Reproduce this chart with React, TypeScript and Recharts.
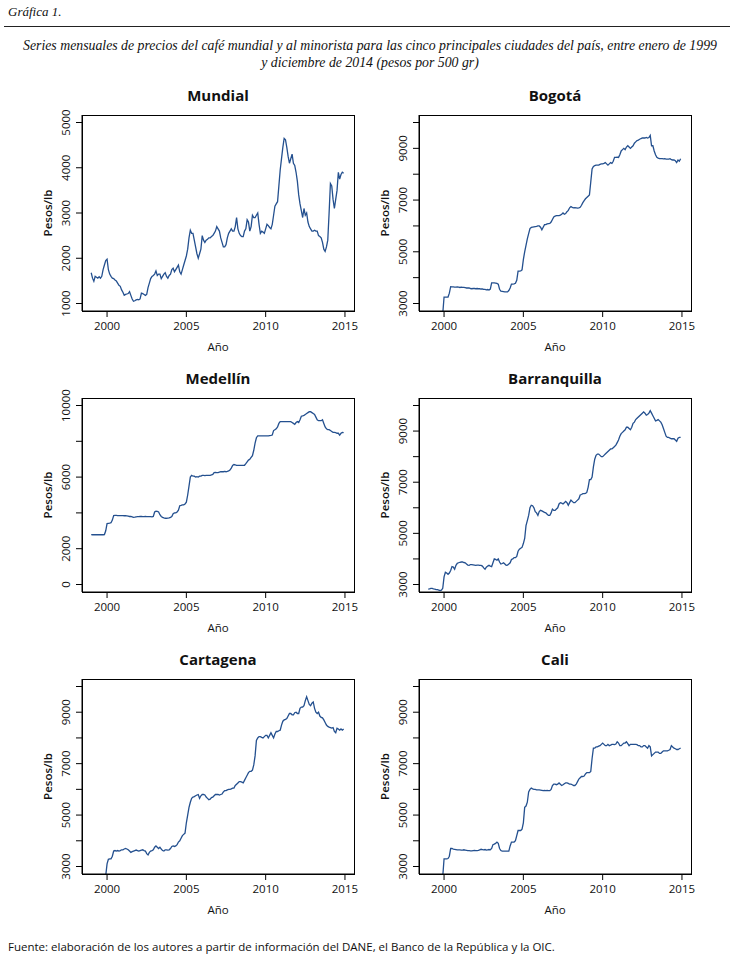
import React from 'react';
import { LineChart, Line, XAxis, YAxis, Label } from 'recharts';

const SANS = '"Open Sans", "Noto Sans", sans-serif';
const SERIF = '"Liberation Serif", "DejaVu Serif", serif';
const LINE_COLOR = '#24508f';

// monthly series, Jan 1999 .. Dec 2014 (one row of 12 per year)
const months = Array.from({ length: 192 }, (_, i) => 1999 + i / 12);
const yearTicks = [2000, 2005, 2010, 2015];
const xDomain = [1998.42, 2015.57];

const mundial = [
  1680, 1560, 1490, 1600, 1580, 1560, 1590, 1560, 1600, 1750, 1850, 1950,
  1980, 1750, 1650, 1600, 1560, 1550, 1520, 1500, 1450, 1400, 1380, 1300,
  1250, 1180, 1200, 1210, 1220, 1260, 1180, 1100, 1050, 1060, 1080, 1090,
  1080, 1100, 1230, 1220, 1200, 1180, 1200, 1350, 1450, 1550, 1600, 1620,
  1650, 1720, 1620, 1650, 1650, 1550, 1600, 1650, 1680, 1600, 1560, 1620,
  1650, 1750, 1780, 1700, 1750, 1800, 1850, 1700, 1650, 1750, 1850, 1950,
  2050, 2200, 2450, 2620, 2550, 2550, 2400, 2250, 2100, 2000, 2100, 2200,
  2500, 2400, 2350, 2400, 2420, 2450, 2450, 2480, 2500, 2550, 2600, 2700,
  2650, 2600, 2450, 2350, 2250, 2250, 2300, 2450, 2550, 2600, 2650, 2600,
  2600, 2700, 2900, 2650, 2550, 2500, 2480, 2480, 2600, 2650, 2850, 2800,
  2600, 2700, 2950, 2900, 2900, 2950, 3000, 2750, 2550, 2600, 2580, 2550,
  2650, 2750, 2720, 2680, 2650, 2750, 2950, 3150, 3200, 3250, 3600, 3950,
  4200, 4450, 4650, 4620, 4450, 4250, 4100, 4200, 4300, 4100, 4050, 3900,
  3700, 3400, 3200, 3050, 2900, 3100, 2950, 3000, 2800, 2700, 2650, 2600,
  2600, 2620, 2600, 2600, 2500, 2480, 2450, 2350, 2200, 2150, 2250, 2400,
  3000, 3650, 3600, 3300, 3100, 3300, 3500, 3900, 3750, 3850, 3900, 3880,
];

const bogota = [
  2550, 2550, 2550, 2550, 2550, 2550, 2550, 2550, 2550, 2550, 2550, 2600,
  3250, 3250, 3250, 3250, 3400, 3650, 3640, 3640, 3630, 3630, 3640, 3630,
  3620, 3630, 3620, 3620, 3610, 3600, 3600, 3600, 3580, 3570, 3580, 3580,
  3570, 3580, 3570, 3570, 3560, 3560, 3550, 3550, 3530, 3540, 3520, 3560,
  3800, 3800, 3800, 3790, 3780, 3750, 3550, 3480, 3470, 3460, 3450, 3450,
  3450, 3500, 3600, 3750, 3750, 3760, 3780, 3900, 4250, 4250, 4260, 4300,
  4700, 5000, 5250, 5500, 5700, 5900, 5940, 5950, 5960, 5970, 5980, 6000,
  6000, 5950, 5850, 5950, 6050, 6050, 6080, 6090, 6100, 6150, 6250, 6350,
  6380, 6400, 6400, 6400, 6420, 6450, 6500, 6450, 6480, 6550, 6600, 6700,
  6750, 6720, 6700, 6710, 6700, 6690, 6700, 6720, 6800, 6900, 6980, 7050,
  7100, 7150, 7200, 7700, 8200, 8300, 8330, 8350, 8350, 8350, 8380, 8400,
  8400, 8420, 8450, 8400, 8350, 8400, 8450, 8420, 8500, 8650, 8650, 8660,
  8650, 8750, 8900, 8950, 9000, 8950, 9050, 9100, 9050, 9000, 9050, 9100,
  9200, 9250, 9300, 9320, 9350, 9380, 9400, 9400, 9400, 9420, 9400, 9420,
  9500, 9100, 9100, 8900, 8750, 8650, 8620, 8600, 8600, 8600, 8590, 8600,
  8580, 8580, 8580, 8600, 8560, 8550, 8550, 8520, 8450, 8550, 8500, 8600,
];

const medellin = [
  2790, 2780, 2780, 2780, 2780, 2780, 2780, 2780, 2780, 2780, 2790, 3000,
  3400, 3420, 3430, 3450, 3600, 3850, 3860, 3860, 3850, 3850, 3850, 3850,
  3850, 3840, 3840, 3830, 3820, 3800, 3800, 3780, 3750, 3760, 3780, 3790,
  3790, 3800, 3800, 3790, 3790, 3800, 3790, 3790, 3790, 3790, 3780, 3800,
  4050, 4100, 4080, 4050, 3900, 3800, 3750, 3720, 3700, 3700, 3710, 3720,
  3750, 3800, 3950, 4000, 4000, 4050, 4150, 4400, 4420, 4450, 4450, 4500,
  4600, 5000, 5500, 6000, 6100, 6050, 6050, 6000, 6020, 6000, 6050, 6060,
  6100, 6100, 6080, 6100, 6100, 6100, 6100, 6120, 6150, 6250, 6260, 6250,
  6250, 6280, 6300, 6300, 6300, 6320, 6300, 6320, 6350, 6400, 6500, 6650,
  6700, 6680, 6660, 6650, 6650, 6650, 6650, 6650, 6660, 6750, 6850, 6950,
  7000, 7100, 7200, 7500, 7900, 8200, 8300, 8300, 8300, 8300, 8300, 8300,
  8300, 8300, 8300, 8320, 8330, 8350, 8600, 8650, 8700, 8800, 9000, 9100,
  9100, 9100, 9100, 9100, 9100, 9100, 9100, 9100, 9050, 9000, 8950, 9050,
  9100, 9050, 9200, 9400, 9420, 9450, 9500, 9550, 9600, 9650, 9650, 9600,
  9550, 9500, 9350, 9200, 9150, 9150, 9150, 9200, 9000, 8800, 8700, 8650,
  8650, 8600, 8550, 8500, 8500, 8480, 8450, 8450, 8350, 8450, 8500, 8480,
];

const barranquilla = [
  2820, 2830, 2850, 2850, 2830, 2820, 2800, 2800, 2780, 2760, 2780, 2850,
  3300, 3480, 3450, 3400, 3450, 3550, 3700, 3680, 3600, 3750, 3830, 3850,
  3870, 3880, 3880, 3860, 3850, 3800, 3760, 3750, 3780, 3780, 3770, 3760,
  3750, 3760, 3760, 3750, 3750, 3720, 3650, 3600, 3680, 3720, 3750, 3720,
  3700, 3850, 4000, 3980, 3950, 4000, 3880, 3800, 3820, 3850, 3800, 3750,
  3760, 3800, 3850, 3980, 4000, 4050, 4050, 4100, 4300, 4380, 4420, 4450,
  4600, 4800, 5300, 5500, 5700, 6000, 6100, 6080, 6000, 5850, 5800, 5700,
  5850, 5900, 5880, 5850, 5820, 5800, 5750, 5700, 5700, 5800, 5950, 5900,
  5900, 5950, 6000, 6150, 6200, 6180, 6150, 6200, 6250, 6200, 6100, 6200,
  6300, 6250, 6200, 6200, 6250, 6300, 6350, 6500, 6520, 6550, 6550, 6560,
  6600, 6800, 7100, 7100, 7200, 7600, 7900, 8050, 8100, 8100, 8050, 8000,
  8000, 8050, 8100, 8150, 8200, 8250, 8300, 8300, 8350, 8400, 8450, 8550,
  8650, 8800, 8900, 8950, 9000, 9050, 9150, 9150, 9100, 9050, 9150, 9300,
  9350, 9450, 9500, 9550, 9600, 9650, 9700, 9750, 9700, 9620, 9650, 9700,
  9800, 9700, 9600, 9500, 9400, 9420, 9450, 9400, 9350, 9250, 9100, 8950,
  8800, 8750, 8750, 8720, 8700, 8700, 8700, 8650, 8600, 8720, 8750, 8750,
];

const cartagena = [
  2550, 2550, 2550, 2550, 2550, 2550, 2550, 2550, 2550, 2550, 2550, 2650,
  3100, 3280, 3300, 3300, 3400, 3600, 3620, 3600, 3620, 3600, 3620, 3650,
  3650, 3680, 3700, 3680, 3650, 3600, 3550, 3580, 3600, 3620, 3640, 3620,
  3600, 3620, 3640, 3650, 3620, 3600, 3500, 3450, 3550, 3600, 3620, 3650,
  3750, 3800, 3750, 3700, 3750, 3680, 3620, 3600, 3650, 3650, 3640, 3650,
  3700, 3780, 3800, 3780, 3800, 3850, 3950, 4000, 4100, 4200, 4250, 4300,
  4700, 5000, 5300, 5500, 5650, 5700, 5720, 5750, 5780, 5800, 5650, 5750,
  5800, 5800, 5780, 5700, 5650, 5600, 5620, 5680, 5700, 5750, 5800, 5800,
  5800, 5780, 5800, 5820, 5900, 5950, 5950, 5980, 6000, 6000, 6020, 6050,
  6050, 6150, 6200, 6250, 6300, 6300, 6280, 6250, 6350, 6450, 6550, 6650,
  6700, 6700, 6750, 6950, 7300, 7900, 8000, 8050, 8050, 8020, 8000, 8050,
  8100, 8100, 8000, 8100, 8200, 8100, 8000, 8150, 8250, 8250, 8280, 8300,
  8500, 8650, 8700, 8720, 8750, 8850, 8950, 8950, 8900, 8900, 8980, 9000,
  8950, 8950, 9150, 9200, 9200, 9250, 9450, 9600, 9450, 9300, 9250, 9350,
  9400, 9150, 9000, 8950, 9000, 8850, 8800, 8780, 8700, 8600, 8500, 8450,
  8420, 8400, 8380, 8400, 8250, 8200, 8380, 8350, 8300, 8350, 8300, 8350,
];

const cali = [
  2550, 2550, 2550, 2550, 2550, 2550, 2550, 2550, 2550, 2550, 2550, 2600,
  3300, 3300, 3300, 3310, 3400, 3700, 3700, 3680, 3670, 3660, 3650, 3650,
  3650, 3640, 3640, 3650, 3640, 3630, 3620, 3620, 3610, 3610, 3620, 3630,
  3620, 3620, 3630, 3650, 3670, 3660, 3650, 3660, 3640, 3650, 3660, 3650,
  3700, 3850, 3870, 3900, 3950, 3900, 3700, 3620, 3600, 3600, 3600, 3600,
  3600, 3600, 3800, 3950, 3950, 3950, 4000, 4200, 4400, 4400, 4400, 4450,
  4700, 5300, 5350, 5500, 5900, 6000, 6050, 6020, 6000, 6000, 5980, 5980,
  5980, 5970, 5960, 5950, 5960, 5950, 5960, 5950, 5950, 6000, 6150, 6200,
  6200, 6180, 6200, 6250, 6200, 6150, 6180, 6220, 6250, 6250, 6230, 6200,
  6200, 6180, 6150, 6150, 6200, 6300, 6400, 6450, 6500, 6500, 6520, 6600,
  6650, 6650, 6650, 6700, 7200, 7600, 7600, 7650, 7650, 7680, 7700, 7750,
  7800, 7750, 7700, 7700, 7750, 7700, 7720, 7750, 7750, 7740, 7760, 7850,
  7800, 7700, 7700, 7750, 7800, 7800, 7850, 7780, 7700, 7750, 7750, 7750,
  7750, 7750, 7740, 7700, 7700, 7650, 7650, 7700, 7700, 7650, 7600, 7700,
  7650, 7300, 7350, 7400, 7450, 7450, 7450, 7400, 7400, 7450, 7500, 7500,
  7500, 7500, 7520, 7550, 7700, 7650, 7600, 7580, 7550, 7550, 7580, 7600,
];

const ticksMundial = [1000, 2000, 3000, 4000, 5000];
const ticksMedellin = [0, 2000, 4000, 6000, 8000, 10000];
const labelsMedellin = [0, 2000, 6000, 10000];
const ticksCity = [3000, 4000, 5000, 6000, 7000, 8000, 9000, 10000];
const labelsCity = [3000, 5000, 7000, 9000];

const toRows = (vals: number[]) => months.map((t, i) => ({ t, v: vals[i] }));

const XTick = (props: any) => {
  const { x, y, payload } = props;
  return (
    <text x={x} y={y + 11} textAnchor="middle" fontSize={11.5} fontFamily={SANS} fill="#111">
      {payload.value}
    </text>
  );
};

const YTick = (props: any) => {
  const { x, y, payload, labels } = props;
  if (!labels.includes(payload.value)) return null;
  return (
    <text x={x} y={y} transform={`rotate(-90 ${x} ${y})`} textAnchor="middle" fontSize={11.5} fontFamily={SANS} fill="#111">
      {payload.value}
    </text>
  );
};

type PanelProps = {
  title: string;
  values: number[];
  ticks: number[];
  labels: number[];
  left: number;
  top: number;
  h: number;
};

function Panel({ title, values, ticks, labels, left, top, h }: PanelProps) {
  const W = 272;
  const lo = ticks[0];
  const hi = ticks[ticks.length - 1];
  const pad = ((hi - lo) * 7.5) / (h - 15);
  return (
    <>
      <div
        style={{
          position: 'absolute',
          left,
          top: top - 29,
          width: W,
          textAlign: 'center',
          fontFamily: SANS,
          fontSize: 15,
          fontWeight: 700,
          lineHeight: '18px',
          color: '#111',
        }}
      >
        {title}
      </div>
      <div style={{ position: 'absolute', left: left - 60, top: top - 40 }}>
        <LineChart width={W + 70} height={h + 85} data={toRows(values)} margin={{ top: 40, right: 10, bottom: 0, left: 0 }}>
          <XAxis
            dataKey="t"
            type="number"
            domain={xDomain}
            ticks={yearTicks}
            interval={0}
            allowDataOverflow
            height={45}
            tickSize={6}
            tickMargin={2}
            stroke="#000"
            tick={<XTick />}
          >
            <Label
              content={(p: any) => (
                <text x={p.viewBox.x + p.viewBox.width / 2} y={p.viewBox.y + 40} textAnchor="middle" fontSize={11.5} fontFamily={SANS} fill="#111">
                  Año
                </text>
              )}
            />
          </XAxis>
          <YAxis
            type="number"
            domain={[lo - pad, hi + pad]}
            ticks={ticks}
            interval={0}
            allowDataOverflow
            width={60}
            tickSize={6}
            tickMargin={6}
            stroke="#000"
            tick={<YTick labels={labels} />}
          >
            <Label
              content={(p: any) => {
                const cx = p.viewBox.x + p.viewBox.width - 30;
                const cy = p.viewBox.y + p.viewBox.height / 2;
                return (
                  <text x={cx} y={cy} transform={`rotate(-90 ${cx} ${cy})`} textAnchor="middle" fontSize={11.5} fontWeight={600} fontFamily={SANS} fill="#111">
                    Pesos/lb
                  </text>
                );
              }}
            />
          </YAxis>
          <Line dataKey="v" stroke={LINE_COLOR} strokeWidth={1.3} dot={false} isAnimationActive={false} />
        </LineChart>
      </div>
      {/* plot frame */}
      <div
        style={{
          position: 'absolute',
          left,
          top,
          width: W + 1,
          height: h + 1,
          border: '1px solid #000',
          boxSizing: 'border-box',
          pointerEvents: 'none',
        }}
      />
    </>
  );
}

export default function App() {
  return (
    <div style={{ position: 'absolute', left: 0, top: 0, width: 730, height: 976, background: '#fff', overflow: 'hidden' }}>
      <div style={{ position: 'absolute', left: 8, top: 4, fontFamily: SERIF, fontStyle: 'italic', fontSize: 13, lineHeight: '16px', color: '#111' }}>
        Gráfica 1.
      </div>
      <div style={{ position: 'absolute', left: 4, top: 26, width: 726, height: 1, background: '#222' }} />
      <div style={{ position: 'absolute', left: 0, top: 37, width: 740, textAlign: 'center', fontFamily: SERIF, fontStyle: 'italic', fontSize: 13.8, lineHeight: '17px', color: '#111' }}>
        Series mensuales de precios del café mundial y al minorista para las cinco principales ciudades del país, entre enero de 1999
        <br />y diciembre de 2014 (pesos por 500 gr)
      </div>

      <Panel title="Mundial" values={mundial} ticks={ticksMundial} labels={ticksMundial} left={82} top={115} h={196} />
      <Panel title="Bogotá" values={bogota} ticks={ticksCity} labels={labelsCity} left={419} top={115} h={196} />
      <Panel title="Medellín" values={medellin} ticks={ticksMedellin} labels={labelsMedellin} left={82} top={398} h={194} />
      <Panel title="Barranquilla" values={barranquilla} ticks={ticksCity} labels={labelsCity} left={419} top={398} h={194} />
      <Panel title="Cartagena" values={cartagena} ticks={ticksCity} labels={labelsCity} left={82} top={679} h={195} />
      <Panel title="Cali" values={cali} ticks={ticksCity} labels={labelsCity} left={419} top={679} h={195} />

      <div style={{ position: 'absolute', left: 8, top: 940, fontFamily: SANS, fontSize: 11.5, lineHeight: '14px', color: '#111' }}>
        Fuente: elaboración de los autores a partir de información del DANE, el Banco de la República y la OIC.
      </div>
    </div>
  );
}
